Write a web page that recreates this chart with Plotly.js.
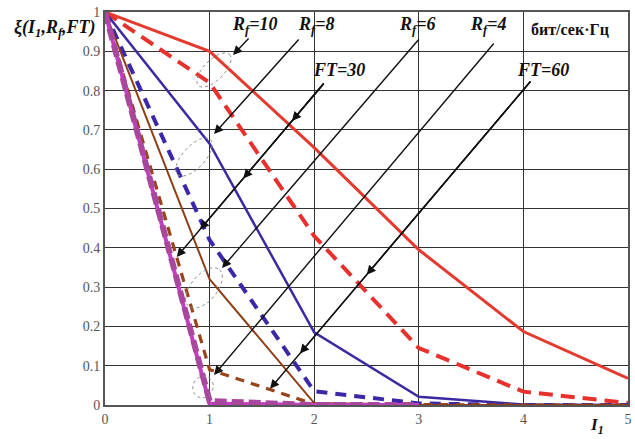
<!DOCTYPE html>
<html><head><meta charset="utf-8">
<script src="https://cdn.plot.ly/plotly-3.0.1.min.js"></script>
<style>html,body{margin:0;padding:0;background:#fff;}</style>
</head><body>
<div id="chart" style="width:635px;height:439px;"></div>
<script>
// ---- data ----
const I1 = [0, 1, 2, 3, 4, 5];
const rf10_ft30 = [1, 0.90, 0.655, 0.395, 0.187, 0.068];
const rf10_ft60 = [1, 0.82, 0.43, 0.145, 0.034, 0.005];
const rf8_ft30  = [1, 0.665, 0.185, 0.021, 0.001, 0];
const rf8_ft60  = [1, 0.42, 0.035, 0.004, 0, 0];
const rf6_ft30  = [1, 0.32, 0.005, 0, 0, 0];
const rf6_ft60  = [1, 0.09, 0.002, 0, 0, 0];
const rf4_ft30  = [1, 0.004, 0, 0, null, null];
const rf4_ft60  = [1, 0.01, 0, 0, null, null];
const yTickVals = [0, 0.1, 0.2, 0.3, 0.4, 0.5, 0.6, 0.7, 0.8, 0.9, 1];
const yTickText = ['0', '0.1', '0.2', '0.3', '0.4', '0.5', '0.6', '0.7', '0.8', '0.9', '1'];
const xTickVals = [0, 1, 2, 3, 4, 5];
const xTickText = ['0', '1', '2', '3', '4', '5'];

// ---- layout geometry ----
const L = 105, T = 12, W = 523, H = 393;
function dx(px) { return (px - L) / W * 5; }
function dy(py) { return 1 - (py - T) / H; }
function fx(px) { return (px - L) / W; }
function fy(py) { return 1 - (py - T) / H; }

const traces = [
  {x: I1, y: rf10_ft60, mode: 'lines', line: {color: '#e8302c', width: 4, dash: '14px,8px'}},
  {x: I1, y: rf10_ft30, mode: 'lines', line: {color: '#e53a2e', width: 3}},
  {x: I1, y: rf8_ft60, mode: 'lines', line: {color: '#3b28a8', width: 4, dash: '11px,8px'}},
  {x: I1, y: rf8_ft30, mode: 'lines', line: {color: '#3d2aa2', width: 2.5}},
  {x: I1, y: rf6_ft60, mode: 'lines', line: {color: '#97441a', width: 3.2, dash: '9px,7px'}},
  {x: I1, y: rf6_ft30, mode: 'lines', line: {color: '#8e3f16', width: 2}},
  {x: I1, y: rf4_ft30, mode: 'lines', line: {color: '#c23fc4', width: 4}},
  {x: I1, y: rf4_ft60, mode: 'lines', line: {color: '#a9479f', width: 6, dash: '12px,5px'}}
];

const labelFont = {family: 'Liberation Serif, serif', size: 18, color: '#111'};
function label(text, px, py, size) {
  return {x: fx(px), y: fy(py), xref: 'paper', yref: 'paper', text: text, showarrow: false,
          font: Object.assign({}, labelFont, size ? {size: size} : {}), xanchor: 'center', yanchor: 'middle'};
}
function arrow(tx, ty, hx, hy) {
  return {x: dx(hx), y: dy(hy), ax: dx(tx), ay: dy(ty), xref: 'x', yref: 'y', axref: 'x', ayref: 'y',
          text: '', showarrow: true, arrowhead: 2, arrowsize: 1.3, arrowwidth: 1.4, arrowcolor: '#111', standoff: 0};
}

const annotations = [
  label('<b><i>R<sub>f</sub>=10</i></b>', 254, 26),
  label('<b><i>R<sub>f</sub>=8</i></b>', 316, 26),
  label('<b><i>R<sub>f</sub>=6</i></b>', 417, 26),
  label('<b><i>R<sub>f</sub>=4</i></b>', 488, 26),
  label('<b>бит/сек·Гц</b>', 570, 30, 16),
  label('<b><i>FT=30</i></b>', 339, 70),
  label('<b><i>FT=60</i></b>', 543, 70),
  label('<b><i>ξ(I<sub>1</sub>,R<sub>f</sub>,FT)</i></b>', 55, 28),
  label('<b><i>I<sub>1</sub></i></b>', 597, 426, 17),
  arrow(250, 37, 233, 55),
  arrow(300, 38, 214, 134),
  arrow(420, 38, 222, 268),
  arrow(495, 42, 214, 375),
  arrow(325, 82, 292, 121),
  arrow(325, 82, 243.3, 178.5),
  arrow(325, 82, 200, 229.5),
  arrow(325, 82, 176.7, 257),
  arrow(531.7, 80, 366.7, 274.7),
  arrow(531.7, 80, 300, 353.4),
  arrow(531.7, 80, 270, 388.8)
];

function ellipse(cx, cy, a, b, angDeg) {
  const ang = angDeg * Math.PI / 180;
  const ux = Math.cos(ang), uy = -Math.sin(ang);
  const vx = Math.sin(ang), vy = Math.cos(ang);
  let p = '';
  for (let i = 0; i <= 48; i++) {
    const t = i / 48 * 2 * Math.PI;
    const px = cx + a * Math.cos(t) * ux + b * Math.sin(t) * vx;
    const py = cy + a * Math.cos(t) * uy + b * Math.sin(t) * vy;
    p += (i === 0 ? 'M' : 'L') + dx(px).toFixed(4) + ',' + dy(py).toFixed(4);
  }
  return {type: 'path', path: p + 'Z', xref: 'x', yref: 'y', line: {color: '#8a8a8a', width: 1, dash: 'dot'}};
}

const shapes = [
  ellipse(214, 70, 22, 10, 45),
  ellipse(194, 157, 24, 11, 47),
  ellipse(204, 288, 24, 13, 50),
  ellipse(203, 387, 11, 10, 60)
];

const tickFont = {family: 'Liberation Serif, serif', size: 14, color: '#555'};
const layout = {
  width: 635, height: 439,
  margin: {l: L, r: 635 - L - W, t: T, b: 439 - T - H, pad: 0},
  paper_bgcolor: '#fff', plot_bgcolor: '#fff',
  showlegend: false,
  xaxis: {range: [0, 5], tickvals: xTickVals, ticktext: xTickText, showgrid: true, gridcolor: '#333', gridwidth: 1,
          zeroline: false, showline: true, mirror: true, linecolor: '#555', linewidth: 2, ticks: '', tickfont: tickFont, fixedrange: true},
  yaxis: {range: [0, 1], tickvals: yTickVals, ticktext: yTickText, showgrid: true, gridcolor: '#333', gridwidth: 1,
          zeroline: false, showline: true, mirror: true, linecolor: '#555', linewidth: 2, ticks: '', tickfont: tickFont, fixedrange: true},
  annotations: annotations,
  shapes: shapes
};

Plotly.newPlot('chart', traces, layout, {staticPlot: true, displayModeBar: false});
</script>
</body></html>
